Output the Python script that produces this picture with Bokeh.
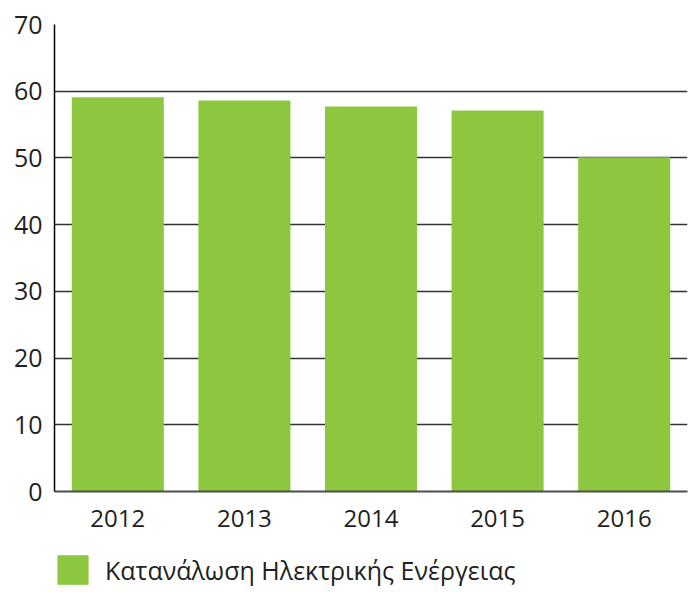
from bokeh.plotting import figure
from bokeh.layouts import column
from bokeh.models import FactorRange, Range1d, Legend, LegendItem, FixedTicker, ColumnDataSource
from bokeh.embed import file_html
from bokeh.resources import INLINE

years = ["2012", "2013", "2014", "2015", "2016"]
consumption = [59.1, 58.6, 57.7, 57.1, 50.1]
series_label = "Κατανάλωση Ηλεκτρικής Ενέργειας"
y_ticks = [0, 10, 20, 30, 40, 50, 60, 70]

FONT = "Open Sans"
TXT = "#231f20"
GREEN = "#8dc63f"

src = ColumnDataSource(dict(x=years, y=consumption))

p = figure(x_range=FactorRange(*years, range_padding=0), y_range=Range1d(0, 70),
           width=692, height=541, output_backend="svg", toolbar_location=None,
           min_border_left=54, min_border_right=5, min_border_top=24, min_border_bottom=50)
p.outline_line_color = None
p.background_fill_color = "white"

r = p.vbar(x="x", top="y", width=0.727, source=src, fill_color=GREEN, line_color=None)

p.xgrid.grid_line_color = None
p.ygrid.grid_line_color = "#333333"
p.ygrid.grid_line_width = 1.5
p.ygrid.ticker = FixedTicker(ticks=y_ticks)

p.yaxis.ticker = FixedTicker(ticks=y_ticks)
p.yaxis.major_tick_line_color = None
p.yaxis.minor_tick_line_color = None
p.yaxis.axis_line_color = "black"
p.yaxis.axis_line_width = 1.5
p.yaxis.major_label_text_font = FONT
p.yaxis.major_label_text_font_size = "25px"
p.yaxis.major_label_text_color = TXT
p.yaxis.major_label_standoff = 6

p.xaxis.major_tick_line_color = None
p.xaxis.minor_tick_line_color = None
p.xaxis.axis_line_color = "#4d4d4d"
p.xaxis.axis_line_width = 2
p.xaxis.major_label_text_font = FONT
p.xaxis.major_label_text_font_size = "24px"
p.xaxis.major_label_text_color = TXT
p.xaxis.major_label_standoff = 12

# legend strip (the swatch comes from a renderer whose bar lies outside the visible range)
p2 = figure(width=692, height=51, output_backend="svg", toolbar_location=None,
            x_axis_type=None, y_axis_type=None, min_border=0,
            x_range=Range1d(0, 1), y_range=Range1d(0, 1))
p2.outline_line_color = None
p2.xgrid.grid_line_color = None
p2.ygrid.grid_line_color = None
r2 = p2.vbar(x="x", top="y", bottom="b", width=0.5,
             source=ColumnDataSource(dict(x=[10], y=[11], b=[10])),
             fill_color=GREEN, line_color=None)

legend = Legend(items=[LegendItem(label=series_label, renderers=[r2])],
                location=(-1, 4), padding=0, margin=0, spacing=0,
                glyph_width=39, glyph_height=37, label_standoff=13,
                label_text_font=FONT, label_text_font_size="25px",
                label_text_color=TXT, border_line_color=None,
                background_fill_alpha=0)
p2.add_layout(legend, "center")

open("out.html", "w").write(file_html(column(p, p2), INLINE))
